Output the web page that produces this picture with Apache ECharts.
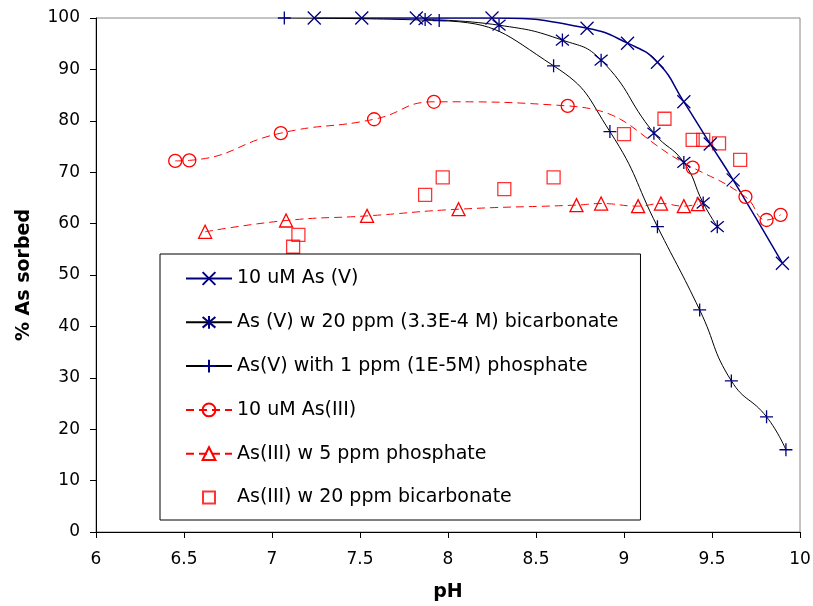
<!DOCTYPE html>
<html>
<head>
<meta charset="utf-8">
<title>% As sorbed vs pH</title>
<script src="https://cdn.jsdelivr.net/npm/echarts@6/dist/echarts.min.js"></script>
<style>
	html,body{margin:0;padding:0;background:#fff;}
	#chart{width:813px;height:606px;}
</style>
</head>
<body>
<div id="chart"></div>
<script>
// series names
var names = [
	'10 uM As (V)',
	'As (V) w 20 ppm (3.3E-4 M) bicarbonate',
	'As(V) with 1 ppm (1E-5M) phosphate',
	'10 uM As(III)',
	'As(III) w 5 ppm phosphate',
	'As(III) w 20 ppm bicarbonate'
];
// pH / % sorbed
var asV_pH = [7.24, 7.51, 7.82, 8.25, 8.79, 9.02, 9.19, 9.34, 9.49, 9.62, 9.90];
var asV_val = [100, 100, 100, 100, 98.0, 95.1, 91.4, 83.7, 75.5, 68.5, 52.3];
var asVbic_pH = [7.87, 8.29, 8.65, 8.87, 9.17, 9.34, 9.45, 9.53];
var asVbic_val = [99.7, 98.6, 95.7, 91.8, 77.6, 71.9, 64.0, 59.4];
var asVphos_pH = [7.07, 7.95, 8.60, 8.92, 9.19, 9.43, 9.61, 9.81, 9.92];
var asVphos_val = [100, 99.5, 90.7, 77.9, 59.4, 43.2, 29.4, 22.4, 16.0];
var asIII_pH = [6.45, 6.53, 7.05, 7.58, 7.92, 8.68, 9.39, 9.69, 9.81, 9.89];
var asIII_val = [72.2, 72.3, 77.6, 80.3, 83.7, 82.9, 70.9, 65.2, 60.7, 61.7];
var asIIIphos_pH = [6.62, 7.08, 7.54, 8.06, 8.73, 8.87, 9.08, 9.21, 9.34, 9.42];
var asIIIphos_val = [58.4, 60.6, 61.5, 62.8, 63.6, 63.9, 63.4, 63.9, 63.4, 63.8];
var asIIIbic_pH = [7.12, 7.15, 7.87, 7.97, 8.32, 8.60, 9.00, 9.23, 9.39, 9.45, 9.54, 9.66];
var asIIIbic_val = [55.5, 57.8, 65.6, 69.0, 66.7, 69.0, 77.4, 80.4, 76.3, 76.3, 75.6, 72.4];
// axis ticks
var xTicks = [6, 6.5, 7, 7.5, 8, 8.5, 9, 9.5, 10];
var yTicks = [0, 10, 20, 30, 40, 50, 60, 70, 80, 90, 100];

var NAVY = '#000080';
var RED = '#ff0000';
var FONT = 'DejaVu Sans';
var symX = 'path://M0,0L10,10M10,0L0,10';
var symStar = 'path://M0,0L10,10M10,0L0,10M5,-1L5,11';
var symPlus = 'path://M5,0L5,10M0,5L10,5';
// square with empty margin so the legend icon stays small
var symBox = 'path://M-2,-2M0,0L12,0L12,12L0,12ZM14,14';

function pairs(xs, ys){
	var out = [];
	for(var i=0;i<xs.length;i++){
		out.push([xs[i], ys[i]]);
	}
	return out;
}

function lineSeries(name, xs, ys, symbol, markColor, lineColor, lineWidth, dashed){
	return {
		name: name,
		type: 'line',
		data: pairs(xs, ys),
		smooth: 0.5,
		symbol: symbol,
		symbolSize: 13,
		showAllSymbol: true,
		itemStyle: {
			color: 'rgba(0,0,0,0)',
			borderColor: markColor,
			borderWidth: 1.3
		},
		lineStyle: {
			color: lineColor,
			width: lineWidth,
			type: dashed ? [8, 5] : 'solid'
		},
		emphasis: {disabled: true},
		animation: false
	};
}

var myChart = echarts.init(document.getElementById('chart'));
var option = {
	animation: false,
	textStyle: {fontFamily: FONT},
	grid: {
		left: 96, right: 13, top: 18, bottom: 74,
		outerBoundsMode: 'none',
		show: true,
		borderColor: '#888',
		borderWidth: 1
	},
	xAxis: {
		type: 'value',
		min: xTicks[0],
		max: xTicks[xTicks.length-1],
		interval: 0.5,
		name: 'pH',
		nameLocation: 'middle',
		nameGap: 51,
		nameTextStyle: {fontFamily: FONT, fontSize: 19, fontWeight: 'bold', color: '#000'},
		axisLine: {lineStyle: {color: '#000', width: 1}},
		axisTick: {inside: false, length: 6, lineStyle: {color: '#000'}},
		axisLabel: {fontFamily: FONT, fontSize: 17, color: '#000', margin: 19},
		splitLine: {show: false}
	},
	yAxis: {
		type: 'value',
		min: yTicks[0],
		max: yTicks[yTicks.length-1],
		interval: 10,
		name: '% As sorbed',
		nameLocation: 'middle',
		nameGap: 62,
		nameTextStyle: {fontFamily: FONT, fontSize: 19, fontWeight: 'bold', color: '#000'},
		axisLine: {show: true, lineStyle: {color: '#000', width: 1}},
		axisTick: {show: true, length: 6, lineStyle: {color: '#000'}},
		axisLabel: {fontFamily: FONT, fontSize: 17, color: '#000', margin: 16},
		splitLine: {show: false}
	},
	legend: {
		orient: 'vertical',
		left: 160,
		top: 254,
		padding: [15, 22, 13, 25],
		itemWidth: 46,
		itemHeight: 16,
		itemGap: 24.8,
		backgroundColor: '#fff',
		borderColor: '#000',
		borderWidth: 1,
		borderRadius: 0,
		textStyle: {fontFamily: FONT, fontSize: 19, color: '#000'},
		data: [names[0], names[1], names[2], names[3], names[4], {name: names[5], icon: symBox}]
	},
	series: [
		lineSeries(names[0], asV_pH, asV_val, symX, NAVY, NAVY, 1.5, false),
		lineSeries(names[1], asVbic_pH, asVbic_val, symStar, NAVY, '#000', 1, false),
		lineSeries(names[2], asVphos_pH, asVphos_val, symPlus, NAVY, '#000', 1, false),
		lineSeries(names[3], asIII_pH, asIII_val, 'circle', RED, RED, 1, true),
		lineSeries(names[4], asIIIphos_pH, asIIIphos_val, 'triangle', RED, RED, 1, true),
		{
			name: names[5],
			type: 'scatter',
			data: pairs(asIIIbic_pH, asIIIbic_val),
			symbol: 'rect',
			symbolSize: 13,
			itemStyle: {color: 'rgba(0,0,0,0)', borderColor: RED, borderWidth: 1.3},
			emphasis: {disabled: true},
			animation: false
		}
	]
};
myChart.setOption(option);
</script>
</body>
</html>
